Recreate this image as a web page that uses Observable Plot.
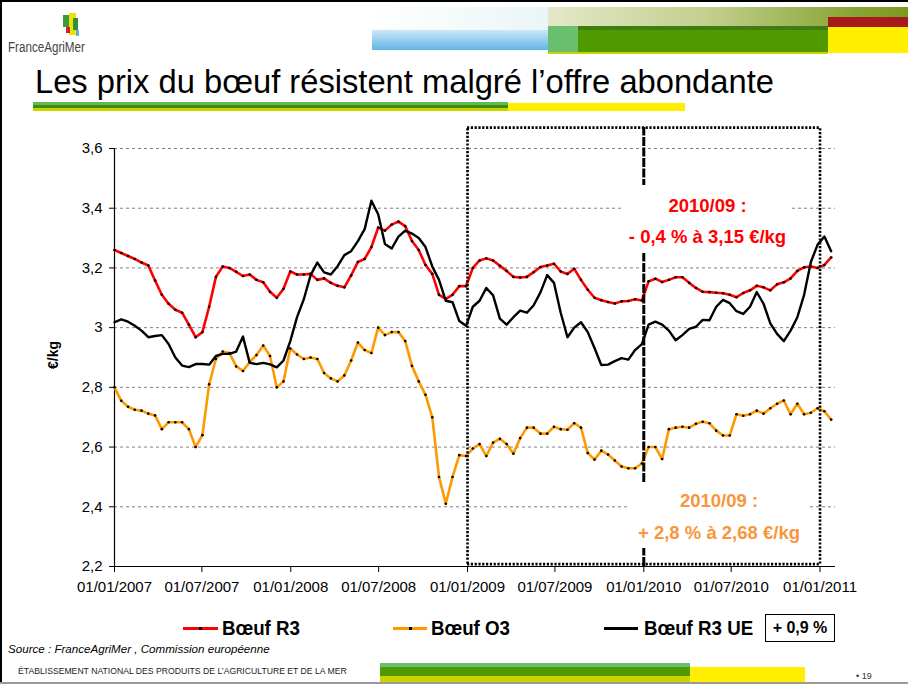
<!DOCTYPE html>
<html><head><meta charset="utf-8">
<script src="https://cdn.jsdelivr.net/npm/d3@7"></script>
<script src="https://cdn.jsdelivr.net/npm/@observablehq/plot@0.6"></script>
<style>
body{margin:0;background:#fff;font-family:"Liberation Sans",Arial,sans-serif;}
#slide{position:relative;width:908px;height:684px;overflow:hidden;background:#fff;}
#slide svg{position:absolute;left:0;top:0;}
.a{position:absolute;}
.ann{position:absolute;background:#fff;font-weight:bold;font-size:18.5px;text-align:center;}
.ann div{position:absolute;left:0;right:0;white-space:nowrap;line-height:21px;}
.leg{position:absolute;font-weight:bold;font-size:19.5px;white-space:nowrap;transform:scaleX(0.96);transform-origin:0 0;}
</style></head><body><div id="slide"></div>
<script>
// ---- data (biweekly prices, €/kg) ----
const startDate = "2007-01-01";
const stepDays = 14;
const seriesNames = ["Bœuf R3", "Bœuf O3", "Bœuf R3 UE"];
const seriesColors = ["#ff0000", "#ff9900", "#000000"];
const r3 = [3.26,3.25,3.24,3.23,3.218,3.208,3.158,3.11,3.08,3.06,
 3.05,3.01,2.968,2.985,3.07,3.17,3.205,3.2,3.187,3.173,
 3.178,3.16,3.152,3.12,3.1,3.13,3.188,3.178,3.178,3.18,
 3.16,3.165,3.15,3.14,3.135,3.175,3.22,3.23,3.27,3.335,
 3.325,3.345,3.355,3.34,3.29,3.26,3.21,3.18,3.11,3.096,
 3.11,3.139,3.139,3.2,3.225,3.232,3.225,3.207,3.19,3.17,
 3.168,3.17,3.186,3.203,3.208,3.214,3.188,3.18,3.197,3.16,
 3.127,3.1,3.092,3.086,3.081,3.088,3.089,3.095,3.091,3.155,
 3.164,3.153,3.16,3.169,3.169,3.15,3.133,3.12,3.119,3.117,
 3.115,3.11,3.102,3.116,3.125,3.14,3.135,3.125,3.145,3.152,
 3.165,3.19,3.202,3.205,3.2,3.21,3.235];
const o3 = [2.8,2.755,2.735,2.725,2.722,2.712,2.706,2.66,2.683,2.683,
 2.683,2.66,2.6,2.64,2.81,2.895,2.92,2.915,2.87,2.855,
 2.885,2.908,2.94,2.905,2.8,2.82,2.93,2.91,2.895,2.9,
 2.895,2.848,2.83,2.82,2.84,2.89,2.95,2.925,2.915,3.0,
 2.975,2.985,2.985,2.955,2.872,2.82,2.775,2.7,2.5,2.41,
 2.5,2.573,2.57,2.595,2.61,2.57,2.615,2.628,2.61,2.578,
 2.63,2.665,2.665,2.645,2.645,2.668,2.66,2.658,2.68,2.665,
 2.58,2.558,2.588,2.575,2.555,2.535,2.529,2.529,2.545,2.6,
 2.6,2.56,2.66,2.665,2.668,2.665,2.678,2.685,2.68,2.655,
 2.639,2.639,2.71,2.705,2.71,2.722,2.712,2.73,2.745,2.756,
 2.71,2.745,2.71,2.715,2.73,2.72,2.692];
const r3ue = [3.018,3.028,3.02,3.006,2.99,2.968,2.972,2.975,2.945,2.9,
 2.873,2.868,2.878,2.878,2.876,2.905,2.912,2.912,2.92,2.97,
 2.882,2.878,2.882,2.877,2.867,2.89,2.955,3.035,3.095,3.175,
 3.218,3.185,3.178,3.206,3.243,3.256,3.29,3.33,3.425,3.38,
 3.28,3.265,3.305,3.325,3.315,3.3,3.27,3.205,3.16,3.09,
 3.085,3.022,3.006,3.07,3.09,3.133,3.108,3.03,3.01,3.035,
 3.057,3.05,3.075,3.118,3.176,3.15,3.05,2.968,3.0,3.018,
 2.985,2.932,2.875,2.876,2.888,2.898,2.893,2.925,2.945,3.01,
 3.02,3.01,2.99,2.958,2.975,2.996,3.003,3.026,3.025,3.07,
 3.093,3.082,3.055,3.046,3.07,3.119,3.08,3.014,2.979,2.955,
 2.99,3.035,3.11,3.22,3.278,3.305,3.256];
const yTicks = [2.2, 2.4, 2.6, 2.8, 3.0, 3.2, 3.4, 3.6];
const xTicks = ["2007-01-01","2007-07-01","2008-01-01","2008-07-01","2009-01-01",
                "2009-07-01","2010-01-01","2010-07-01","2011-01-01"];
const xDomainEnd = "2011-02-02";
const boxDates = ["2009-01-01", "2011-01-01"];
const boxY = [2.208, 3.67];
const dividerDate = "2010-01-01";

// ---- build ----
const D = s => new Date(s + "T00:00:00Z");
const t0 = D(startDate);
const rowsOf = vals => vals.map((v, i) => ({date: d3.utcDay.offset(t0, stepDays * i), value: v}));
const rR3 = rowsOf(r3), rO3 = rowsOf(o3), rUE = rowsOf(r3ue);
const fmtY = d => String(d).replace(".", ",");
const fmtX = d3.utcFormat("%d/%m/%Y");
const dot = {x: "date", y: "value", r: 1.3, fill: "#000"};

const chart = Plot.plot({
  width: 908, height: 684,
  marginLeft: 114, marginRight: 73, marginTop: 148, marginBottom: 118,
  style: {fontFamily: "'Liberation Sans', Arial, sans-serif", fontSize: "15px", color: "#000", background: "transparent", overflow: "visible"},
  x: {type: "utc", domain: [t0, D(xDomainEnd)]},
  y: {domain: [2.2, 3.6]},
  marks: [
    Plot.ruleY(yTicks.slice(1), {stroke: "#808080", strokeDasharray: "3,3", strokeWidth: 1}),
    Plot.ruleY([2.2], {stroke: "#000", strokeWidth: 1.2}),
    Plot.ruleX([t0], {stroke: "#000", strokeWidth: 1.2}),
    Plot.axisX({ticks: xTicks.map(D), tickFormat: fmtX, tickSize: 6, tickPadding: 9, fontSize: 15, label: null}),
    Plot.axisY({ticks: yTicks, tickFormat: fmtY, tickSize: 5, tickPadding: 7, fontSize: 15, label: null}),
    Plot.line(rR3, {x: "date", y: "value", stroke: seriesColors[0], strokeWidth: 2.6}),
    Plot.dot(rR3, dot),
    Plot.line(rO3, {x: "date", y: "value", stroke: seriesColors[1], strokeWidth: 2.6}),
    Plot.dot(rO3, dot),
    Plot.line(rUE, {x: "date", y: "value", stroke: seriesColors[2], strokeWidth: 2.4}),
    Plot.ruleX(boxDates.map(D), {y1: boxY[0], y2: boxY[1], stroke: "#000", strokeWidth: 2.6, strokeDasharray: "2.2,1.6"}),
    Plot.ruleY(boxY, {x1: D(boxDates[0]), x2: D(boxDates[1]), stroke: "#000", strokeWidth: 2.6, strokeDasharray: "2.2,1.6"}),
    Plot.ruleX([D(dividerDate)], {y1: 2.2, y2: boxY[1], stroke: "#000", strokeWidth: 3, strokeDasharray: "9,1.5"})
  ]
});
const slide = document.getElementById("slide");
slide.appendChild(chart);

function el(cls, css, html) {
  const e = document.createElement("div");
  e.className = cls; e.style.cssText = css; if (html != null) e.innerHTML = html;
  slide.appendChild(e); return e;
}
// frame
el("a", "left:0;top:0;width:908px;height:2px;background:#000;");
el("a", "left:0;top:0;width:2px;height:684px;background:#000;");
el("a", "left:0;top:682px;width:908px;height:2px;background:#9a9a9a;");
// header decoration
el("a", "left:372px;top:7px;width:176px;height:23px;background:linear-gradient(to right,#ffffff,#eaf5f6);");
el("a", "left:372px;top:30px;width:176px;height:20px;background:linear-gradient(to bottom,#cbe8f8,#62b5e8);");
el("a", "left:548px;top:7px;width:360px;height:19px;background:linear-gradient(to right,#e4e8c8,#c2cf8c 45%,#88a434 85%,#7d9a20);");
el("a", "left:548px;top:26px;width:30px;height:26px;background:#6abf6e;");
el("a", "left:578px;top:26px;width:250px;height:26px;background:#4f9a00;");
el("a", "left:578px;top:26px;width:250px;height:4px;background:#3f7c12;");
el("a", "left:548px;top:52px;width:280px;height:2px;background:#c9d400;");
el("a", "left:828px;top:17px;width:80px;height:10px;background:#a8191c;");
el("a", "left:828px;top:27px;width:80px;height:26px;background:#ffee00;");
// logo
el("a", "left:63px;top:15px;width:6px;height:12px;background:#3d9a3d;");
el("a", "left:69px;top:13px;width:7px;height:22px;background:#f2e200;");
el("a", "left:66px;top:27px;width:4px;height:6px;background:#c4262d;");
el("a", "left:73px;top:18px;width:5px;height:12px;background:#2f8f3c;");
el("a", "left:76px;top:30px;width:3px;height:6px;background:#5fb2d8;");
el("a", "left:8px;top:39px;font-size:14px;color:#444;white-space:nowrap;transform:scaleX(0.83);transform-origin:0 0;", "FranceAgriMer");
// title
el("a", "left:35px;top:63px;font-size:32.7px;color:#000;white-space:nowrap;", "Les prix du bœuf résistent malgré l’offre abondante");
el("a", "left:33px;top:102px;width:475px;height:3px;background:#62b85e;");
el("a", "left:33px;top:105px;width:475px;height:3px;background:#3f8f00;");
el("a", "left:33px;top:108px;width:475px;height:3px;background:#c9d400;");
el("a", "left:508px;top:103px;width:177px;height:8px;background:#ffee00;");
// y label
el("a", "left:53px;top:355px;font-size:14px;font-weight:bold;transform:translate(-50%,-50%) rotate(-90deg);white-space:nowrap;", "€/kg");
// annotations
const a1 = el("ann", "left:623px;top:185px;width:169px;height:68px;color:#ff0000;");
a1.innerHTML = '<div style="top:10px">2010/09 :</div><div style="top:41px">- 0,4 % à 3,15 €/kg</div>';
const a2 = el("ann", "left:630px;top:482px;width:178px;height:66px;color:#f7963a;");
a2.innerHTML = '<div style="top:8px">2010/09 :</div><div style="top:40px">+ 2,8 % à 2,68 €/kg</div>';
// legend
const legX = [[183, 218, 222], [393, 427, 431], [604, 638, 644]];
seriesNames.forEach((n, i) => {
  const [a, b, t] = legX[i];
  el("a", `left:${a}px;top:627px;width:${b - a}px;height:3px;background:${seriesColors[i]};`);
  if (i < 2) el("a", `left:${(a + b) / 2 - 1.5}px;top:627px;width:3px;height:3px;background:#000;`);
  el("leg", `left:${t}px;top:617px;`, n);
});
el("a", "left:765px;top:614px;width:68px;height:26px;border:1.5px solid #000;font-weight:bold;font-size:16px;line-height:26px;text-align:center;white-space:nowrap;", "+ 0,9 %");
// source & footer
el("a", "left:8px;top:642px;font-size:11.6px;font-style:italic;white-space:nowrap;", "Source : FranceAgriMer , Commission européenne");
el("a", "left:18px;top:666px;font-size:9px;color:#222;white-space:nowrap;transform:scaleX(0.96);transform-origin:0 0;", "ÉTABLISSEMENT NATIONAL DES PRODUITS DE L’AGRICULTURE ET DE LA MER");
el("a", "left:380px;top:663px;width:310px;height:4px;background:#6abf6e;");
el("a", "left:380px;top:667px;width:310px;height:9px;background:#4f9a00;");
el("a", "left:380px;top:676px;width:310px;height:6px;background:#c9d400;");
el("a", "left:690px;top:667px;width:115px;height:15px;background:#ffee00;");
el("a", "left:856px;top:671px;font-size:9px;color:#333;white-space:nowrap;", "• 19");
</script></body></html>
